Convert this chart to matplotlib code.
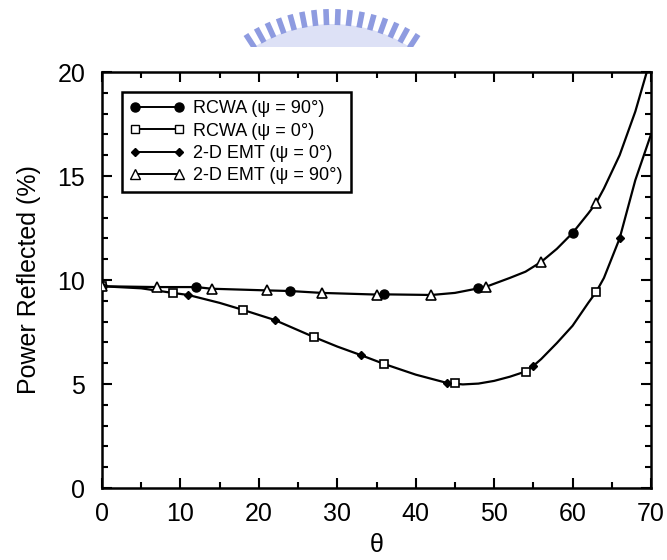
import matplotlib
matplotlib.use("Agg")
import matplotlib.pyplot as plt
from matplotlib.lines import Line2D
from matplotlib.patches import Rectangle, Wedge
from matplotlib.ticker import MultipleLocator
import numpy as np

plt.rcParams["font.family"] = ["Liberation Sans", "DejaVu Sans"]

# smooth curves
upper_theta = [0, 7, 12, 14, 21, 24, 28, 35, 36, 42, 45, 48, 49, 52, 54, 56, 58, 60, 62, 63, 64, 66, 68, 70]
upper_val = [9.70, 9.66, 9.66, 9.58, 9.50, 9.47, 9.38, 9.30, 9.31, 9.28, 9.38, 9.60, 9.68, 10.1, 10.4,
             10.87, 11.5, 12.26, 13.2, 13.7, 14.4, 16.0, 18.1, 20.7]
lower_theta = [0, 5, 9, 11, 15, 18, 22, 27, 30, 33, 36, 40, 44, 46, 48, 50, 52, 54, 55, 56, 58, 60,
               62, 63, 64, 66, 67, 68, 69, 70]
lower_val = [9.70, 9.60, 9.38, 9.28, 8.90, 8.56, 8.08, 7.26, 6.80, 6.39, 5.96, 5.45, 5.05, 4.98, 5.02,
             5.15, 5.35, 5.60, 5.87, 6.2, 6.97, 7.8, 8.9, 9.42, 10.1, 12.0, 13.4, 14.8, 15.9, 17.0]

# marker points
rcwa90_theta = [0, 12, 24, 36, 48, 60]
rcwa90_val = [9.70, 9.66, 9.47, 9.33, 9.60, 12.26]
rcwa0_theta = [0, 9, 18, 27, 36, 45, 54, 63]
rcwa0_val = [9.70, 9.38, 8.56, 7.26, 5.96, 5.05, 5.58, 9.42]
emt0_theta = [0, 11, 22, 33, 44, 55, 66]
emt0_val = [9.70, 9.28, 8.08, 6.39, 5.05, 5.87, 12.0]
emt90_theta = [0, 7, 14, 21, 28, 35, 42, 49, 56, 63]
emt90_val = [9.70, 9.66, 9.57, 9.52, 9.38, 9.28, 9.28, 9.66, 10.87, 13.7]

labels = ["RCWA (\u03c8 = 90\u00b0)", "RCWA (\u03c8 = 0\u00b0)",
          "2-D EMT (\u03c8 = 0\u00b0)", "2-D EMT (\u03c8 = 90\u00b0)"]

W, H = 667, 560
fig = plt.figure(figsize=(W / 100, H / 100), dpi=100)

# watermark logo at the top (pixel coords)
wm = fig.add_axes([0, 1 - 47 / H, 1, 47 / H])
wm.set_xlim(0, W)
wm.set_ylim(47, 0)
wm.axis("off")
cx, cy, R = 332, 167, 157
wm.add_patch(Wedge((cx, cy), R - 14, 180 + 55, 360 - 55, width=40, facecolor="#dde1f6", edgecolor="none"))
for a in np.linspace(-33, 33, 16):
    t = np.deg2rad(a)
    x = cx + (R - 7) * np.sin(t)
    y = cy - (R - 7) * np.cos(t)
    r = Rectangle((x - 2.8, y - 8), 5.6, 16, facecolor="#8e9be0", edgecolor="none")
    tr = matplotlib.transforms.Affine2D().rotate_deg_around(x, y, a) + wm.transData
    r.set_transform(tr)
    wm.add_patch(r)

ax = fig.add_axes([102 / W, 1 - 488 / H, 549 / W, 416 / H])

ax.plot(upper_theta, upper_val, "-", color="black", lw=1.6, zorder=2)
ax.plot(lower_theta, lower_val, "-", color="black", lw=1.6, zorder=2)

ax.plot(rcwa90_theta, rcwa90_val, "o", color="black", ms=6.5, zorder=3)
ax.plot(rcwa0_theta, rcwa0_val, "s", mfc="white", mec="black", mew=1.2, ms=6, zorder=3)
ax.plot(emt0_theta, emt0_val, "D", color="black", ms=4.5, zorder=3)
ax.plot(emt90_theta, emt90_val, "^", mfc="white", mec="black", mew=1.2, ms=7, zorder=3)

ax.set_xlim(0, 70)
ax.set_ylim(0, 20)
ax.xaxis.set_major_locator(MultipleLocator(10))
ax.xaxis.set_minor_locator(MultipleLocator(5))
ax.yaxis.set_major_locator(MultipleLocator(5))
ax.yaxis.set_minor_locator(MultipleLocator(1))
ax.tick_params(which="both", direction="in", top=True, right=True, width=1.5, labelsize=18)
ax.tick_params(axis="x", which="major", pad=10)
ax.tick_params(axis="y", which="major", pad=12)
ax.tick_params(which="major", length=7)
ax.tick_params(which="minor", length=4.5)
for s in ax.spines.values():
    s.set_linewidth(1.8)

ax.set_xlabel("\u03b8", fontsize=18, labelpad=5)
ax.set_ylabel("Power Reflected (%)", fontsize=18, labelpad=12)

handles = [
    Line2D([], [], color="black", lw=1.4, marker="o", ms=6.5),
    Line2D([], [], color="black", lw=1.4, marker="s", mfc="white", mec="black", ms=6),
    Line2D([], [], color="black", lw=1.4, marker="D", ms=4.5),
    Line2D([], [], color="black", lw=1.4, marker="^", mfc="white", mec="black", ms=7),
]
leg = ax.legend(handles, labels, loc="upper left", bbox_to_anchor=(0.036, 0.952), numpoints=2,
                handlelength=3.0, handletextpad=0.5, labelspacing=0.3, fontsize=13,
                fancybox=False, framealpha=1, borderpad=0.45, borderaxespad=0)
leg.get_frame().set_edgecolor("black")
leg.get_frame().set_linewidth(1.8)

fig.savefig("out.png", dpi=100)
